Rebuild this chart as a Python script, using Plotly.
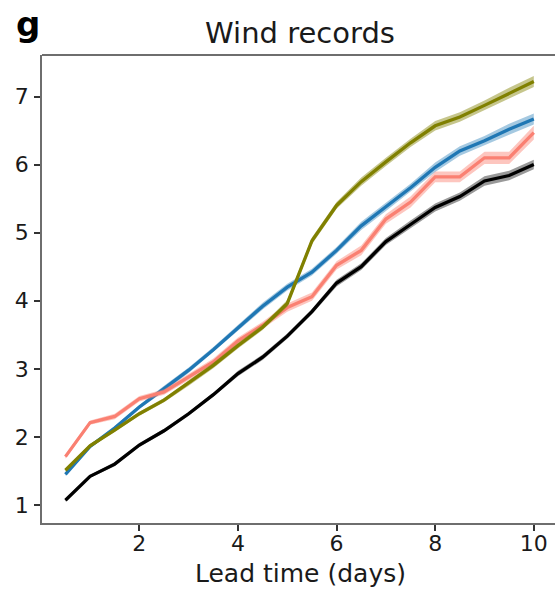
import plotly.graph_objects as go

# ---- data ----
lead_time = [0.5, 1.0, 1.5, 2.0, 2.5, 3.0, 3.5, 4.0, 4.5, 5.0,
             5.5, 6.0, 6.5, 7.0, 7.5, 8.0, 8.5, 9.0, 9.5, 10.0]

black_vals = [1.07, 1.42, 1.60, 1.88, 2.09, 2.34, 2.62, 2.93, 3.17, 3.48,
              3.84, 4.26, 4.50, 4.87, 5.12, 5.37, 5.53, 5.76, 5.84, 6.00]
blue_vals = [1.45, 1.86, 2.13, 2.44, 2.71, 2.98, 3.28, 3.60, 3.92, 4.20,
             4.42, 4.74, 5.10, 5.38, 5.66, 5.96, 6.20, 6.35, 6.52, 6.67]
red_vals = [1.71, 2.21, 2.30, 2.56, 2.66, 2.88, 3.10, 3.41, 3.64, 3.90,
            4.06, 4.52, 4.74, 5.20, 5.45, 5.82, 5.82, 6.10, 6.10, 6.47]
olive_vals = [1.51, 1.87, 2.10, 2.34, 2.54, 2.79, 3.05, 3.34, 3.61, 3.96,
              4.88, 5.40, 5.75, 6.04, 6.32, 6.57, 6.70, 6.87, 7.05, 7.22]

# half-width of the shaded uncertainty band
black_spread = [0.02, 0.02, 0.03, 0.03, 0.03, 0.03, 0.03, 0.04, 0.04, 0.04,
                0.04, 0.05, 0.05, 0.05, 0.06, 0.06, 0.06, 0.07, 0.07, 0.07]
blue_spread = [0.02, 0.03, 0.03, 0.03, 0.04, 0.04, 0.04, 0.04, 0.05, 0.05,
               0.05, 0.05, 0.06, 0.06, 0.06, 0.07, 0.07, 0.07, 0.08, 0.08]
red_spread = [0.03, 0.03, 0.04, 0.04, 0.04, 0.04, 0.05, 0.05, 0.05, 0.06,
              0.06, 0.06, 0.07, 0.07, 0.08, 0.08, 0.08, 0.09, 0.09, 0.10]
olive_spread = [0.02, 0.03, 0.03, 0.03, 0.03, 0.04, 0.04, 0.04, 0.04, 0.05,
                0.05, 0.05, 0.06, 0.06, 0.06, 0.07, 0.07, 0.07, 0.08, 0.08]

x_ticks = [2, 4, 6, 8, 10]
y_ticks = [1, 2, 3, 4, 5, 6, 7]

series = [
    ("black", black_vals, black_spread, "#000000", "rgba(0,0,0,0.4)"),
    ("blue", blue_vals, blue_spread, "#1f77b4", "rgba(31,119,180,0.4)"),
    ("red", red_vals, red_spread, "#fa8072", "rgba(250,128,114,0.45)"),
    ("olive", olive_vals, olive_spread, "#808000", "rgba(128,128,0,0.45)"),
]

fig = go.Figure()
for name, vals, spread, col, fcol in series:
    upper = [v + s for v, s in zip(vals, spread)]
    lower = [v - s for v, s in zip(vals, spread)]
    fig.add_trace(go.Scatter(
        x=lead_time + lead_time[::-1], y=upper + lower[::-1],
        fill="toself", fillcolor=fcol, line=dict(width=0),
        mode="lines", hoverinfo="skip", showlegend=False))
    fig.add_trace(go.Scatter(
        x=lead_time, y=vals, mode="lines", name=name,
        line=dict(color=col, width=3.3), showlegend=False))

font_family = "DejaVu Sans"
axis_col = "#6e6e6e"

fig.update_layout(
    width=555, height=589,
    margin=dict(l=42, r=0, t=55, b=66),
    paper_bgcolor="white", plot_bgcolor="white",
    font=dict(family=font_family, color="#1a1a1a"),
    title=dict(text="Wind records", font=dict(size=29, family=font_family, color="#1a1a1a"),
               x=300 / 555, xanchor="center", xref="container",
               y=1 - 33 / 589, yanchor="middle", yref="container"),
    xaxis=dict(range=[0.025, 10.43], tickvals=x_ticks, showgrid=False, zeroline=False,
               showline=True, linecolor=axis_col, linewidth=1.8,
               ticks="outside", ticklen=6, tickwidth=1.6, tickcolor="#333",
               ticklabelstandoff=-6,
               tickfont=dict(size=22, family=font_family, color="#1a1a1a")),
    yaxis=dict(range=[0.735, 7.61], tickvals=y_ticks, showgrid=False, zeroline=False,
               showline=True, linecolor=axis_col, linewidth=1.8,
               ticks="outside", ticklen=6, tickwidth=1.6, tickcolor="#333",
               ticklabelstandoff=1,
               tickfont=dict(size=22, family=font_family, color="#1a1a1a")),
    shapes=[dict(type="line", xref="paper", yref="paper", x0=0, x1=1, y0=1, y1=1,
                 line=dict(color=axis_col, width=1.8))],
    annotations=[
        dict(text="Lead time (days)", xref="paper", yref="paper",
             x=(300 - 42) / 513, y=-(573 - 523) / 468, xanchor="center", yanchor="middle",
             showarrow=False, font=dict(size=25, family=font_family, color="#1a1a1a")),
        dict(text="<b>g</b>", xref="paper", yref="paper",
             x=(27.5 - 42) / 513, y=(523 - 24) / 468, xanchor="center", yanchor="middle",
             showarrow=False, font=dict(size=34, family=font_family, color="#000000")),
    ],
)

fig.write_html("out.html")
